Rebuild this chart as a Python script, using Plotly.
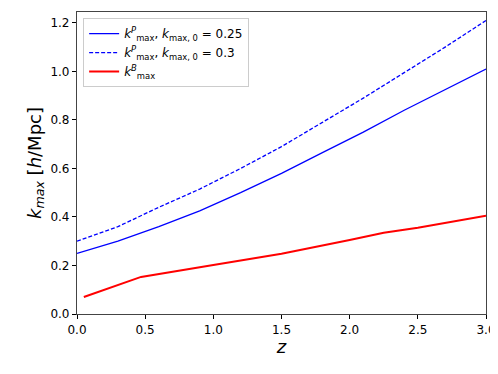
import plotly.graph_objects as go

# k_max against redshift
z_p = [0.0, 0.3, 0.6, 0.9, 1.2, 1.5, 1.8, 2.1, 2.4, 2.7, 3.0]
kmax_p_025 = [0.25, 0.30, 0.36, 0.425, 0.50, 0.58, 0.665, 0.75, 0.84, 0.925, 1.01]
kmax_p_03 = [0.30, 0.36, 0.44, 0.515, 0.60, 0.69, 0.79, 0.89, 0.995, 1.10, 1.21]

z_b = [0.05, 0.47, 1.0, 1.5, 2.0, 2.25, 2.5, 3.0]
kmax_b = [0.07, 0.153, 0.202, 0.248, 0.305, 0.335, 0.356, 0.405]

names = [
    "<i>k</i><sup><i>P</i></sup><sub>max</sub>, <i>k</i><sub>max, 0</sub> = 0.25",
    "<i>k</i><sup><i>P</i></sup><sub>max</sub>, <i>k</i><sub>max, 0</sub> = 0.3",
    "<i>k</i><sup><i>B</i></sup><sub>max</sub>",
]

fig = go.Figure()

fig.add_trace(go.Scatter(x=z_p, y=kmax_p_025, mode='lines', name=names[0],
                         line=dict(color='blue', width=1.3)))
fig.add_trace(go.Scatter(x=z_p, y=kmax_p_03, mode='lines', name=names[1],
                         line=dict(color='blue', width=1.3, dash='4px,2px')))
fig.add_trace(go.Scatter(x=z_b, y=kmax_b, mode='lines', name=names[2],
                         line=dict(color='red', width=2)))

axis_style = dict(showline=True, linecolor='#444444', linewidth=1.2, mirror=True,
                  ticks='outside', ticklen=4, tickwidth=1.3, tickcolor='black',
                  showgrid=False, zeroline=False, automargin=False,
                  tickfont=dict(family='DejaVu Sans', size=12, color='black'))

# the page body adds an 8px margin, so the figure is a bit smaller than the window
fig.update_layout(
    width=490, height=366,
    margin=dict(l=69, r=12, t=4, b=60),
    paper_bgcolor='white', plot_bgcolor='white',
    font=dict(family='DejaVu Sans', color='black'),
    xaxis=dict(range=[0, 3], dtick=0.5, tickformat='.1f',
               title=dict(text='<i>z</i>', font=dict(size=18), standoff=4),
               **axis_style),
    yaxis=dict(range=[0, 1.245], dtick=0.2, tickformat='.1f',
               title=dict(text='<i>k<sub>max</sub></i> [<i>h</i>/Mpc]', font=dict(size=18), standoff=4),
               **axis_style),
    legend=dict(x=0.015, y=0.98, xanchor='left', yanchor='top',
                bgcolor='rgba(255,255,255,0.8)', bordercolor='#cccccc', borderwidth=1,
                font=dict(size=12), tracegroupgap=0, itemwidth=30),
    showlegend=True,
)

fig.write_html("out.html")
